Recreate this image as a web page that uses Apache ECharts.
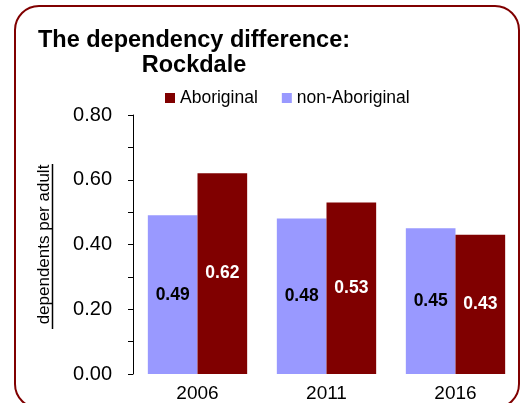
<!DOCTYPE html>
<html>
<head>
<meta charset="utf-8">
<script src="https://cdn.jsdelivr.net/npm/echarts@6/dist/echarts.min.js"></script>
<style>html,body{margin:0;padding:0;background:#fff}#c{width:529px;height:403px}</style>
</head>
<body>
<div id="c"></div>
<script>
const categories = ['2006', '2011', '2016'];
const nonAboriginal = [0.49, 0.48, 0.45];
const aboriginal = [0.62, 0.53, 0.43];
const seriesNames = ['non-Aboriginal', 'Aboriginal'];
const yTicks = [0, 0.2, 0.4, 0.6, 0.8];

const font = '"Liberation Sans", Arial, sans-serif';
const chart = echarts.init(document.getElementById('c'), null, {renderer: 'canvas'});
chart.setOption({
  animation: false,
  backgroundColor: '#fff',
  title: {
    text: 'The dependency difference:\nRockdale',
    left: 189, top: 23, textAlign: 'center',
    textStyle: {fontFamily: font, fontSize: 23.5, fontWeight: 'bold', color: '#000', lineHeight: 25, align: 'center'}
  },
  legend: {
    data: ['Aboriginal', 'non-Aboriginal'],
    left: 160, top: 84,
    icon: 'rect', itemWidth: 10, itemHeight: 10, itemGap: 24,
    textStyle: {fontFamily: font, fontSize: 17.5, color: '#000'}
  },
  grid: {left: 133, right: 9, top: 115, bottom: 28},
  xAxis: {
    type: 'category', data: categories,
    axisLine: {show: false}, axisTick: {show: false},
    axisLabel: {fontFamily: font, fontSize: 19, color: '#000', margin: 10}
  },
  yAxis: {
    type: 'value', min: yTicks[0], max: yTicks[yTicks.length - 1], interval: 0.1,
    name: 'dependents per adult', nameLocation: 'middle', nameGap: 80, nameRotate: 90,
    nameTextStyle: {fontFamily: font, fontSize: 17, color: '#000'},
    axisLine: {show: true, lineStyle: {color: '#000', width: 1}},
    axisTick: {show: true, inside: false, length: 5, lineStyle: {color: '#000'}},
    splitLine: {show: false},
    axisLabel: {
      fontFamily: font, fontSize: 20, color: '#000', margin: 21,
      formatter: v => yTicks.some(t => Math.abs(t - v) < 1e-6) ? v.toFixed(2) : ''
    }
  },
  series: [
    {
      name: seriesNames[0], type: 'bar', data: nonAboriginal, barGap: '0%', barCategoryGap: '23%',
      itemStyle: {color: '#9999FF'},
      label: {show: true, position: 'inside', formatter: p => p.value.toFixed(2),
        fontFamily: font, fontSize: 17.5, fontWeight: 'bold', color: '#000'}
    },
    {
      name: seriesNames[1], type: 'bar', data: aboriginal, barGap: '0%', barCategoryGap: '23%',
      itemStyle: {color: '#800000'},
      label: {show: true, position: 'inside', formatter: p => p.value.toFixed(2),
        fontFamily: font, fontSize: 17.5, fontWeight: 'bold', color: '#fff'}
    }
  ],
  graphic: [
    {type: 'rect', shape: {x: 15, y: 6, width: 504, height: 402, r: 24},
      style: {fill: 'none', stroke: '#800000', lineWidth: 2}, z: 100},
    {type: 'line', shape: {x1: 52.5, y1: 164, x2: 52.5, y2: 329},
      style: {stroke: '#000', lineWidth: 1.5}, z: 100}
  ]
});
</script>
</body>
</html>
